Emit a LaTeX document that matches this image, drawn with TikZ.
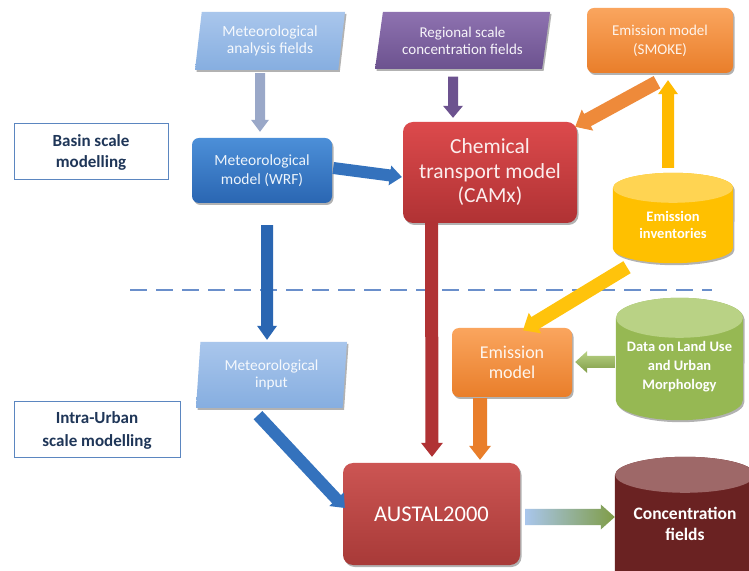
\documentclass[tikz,border=0pt]{standalone}
\usepackage{fontspec}
\setmainfont{Carlito}
\usetikzlibrary{shapes.geometric,calc,shadows}
\pgfdeclarelayer{background}
\pgfsetlayers{background,main}

\definecolor{lbTop}{HTML}{A9C6EC}\definecolor{lbBot}{HTML}{86AEE0}
\definecolor{puTop}{HTML}{8E72B0}\definecolor{puBot}{HTML}{6C528F}
\definecolor{orTop}{HTML}{FAA55E}\definecolor{orBot}{HTML}{E97E2A}
\definecolor{blTop}{HTML}{4C8FD8}\definecolor{blBot}{HTML}{2A66B2}
\definecolor{rdTop}{HTML}{DC4A4C}\definecolor{rdBot}{HTML}{B03234}
\definecolor{auTop}{HTML}{CC5553}\definecolor{auBot}{HTML}{A83A38}
\definecolor{yeBody}{HTML}{FFC000}\definecolor{yeTop}{HTML}{FFD452}
\definecolor{grBody}{HTML}{96B853}\definecolor{grTop}{HTML}{B9D285}
\definecolor{drBody}{HTML}{6A2222}\definecolor{drTop}{HTML}{9E6868}
\definecolor{dashc}{HTML}{6A8FCB}
\definecolor{frame}{HTML}{5B86C0}
\definecolor{navy}{HTML}{1F3658}
\definecolor{greyA}{HTML}{9AA8C8}
\definecolor{greyB}{HTML}{D8DEEC}

\newcommand\blockarrow[6]{%
  \coordinate (bah) at ($(#3)!#6!(#2)$);
  \path[#1] ($(#2)!#4!90:(#3)$) -- ($(bah)!#4!90:(#3)$) -- ($(bah)!#5!90:(#3)$)
    -- (#3) -- ($(bah)!#5!-90:(#3)$) -- ($(bah)!#4!-90:(#3)$) -- ($(#2)!#4!-90:(#3)$) -- cycle;
}
% node, half width, ry, body style, top style
\newcommand\cylbody[5]{%
  \begin{pgfonlayer}{background}
  \path[#4] ($(#1.north west)+(0,-#3)$) -- ($(#1.south west)+(0,#3)$)
     arc[start angle=180, end angle=360, x radius=#2, y radius=#3]
     -- ($(#1.north east)+(0,-#3)$)
     arc[start angle=0, end angle=180, x radius=#2, y radius=#3] -- cycle;
  \path[#5] ($(#1.north)+(0,-#3)$) ellipse[x radius=#2, y radius=#3];
  \end{pgfonlayer}
}

\tikzset{
  shade/.style={drop shadow={shadow xshift=1.5pt,shadow yshift=-2pt,opacity=.3,fill=black}},
  box/.style={rectangle, rounded corners=7pt, draw=none, align=center, inner sep=2pt, shade},
  para/.style={trapezium, trapezium left angle=78, trapezium right angle=102,
     trapezium stretches body, draw=none, align=center, inner sep=1pt, shade},
  scalebox/.style={rectangle, draw=frame, line width=1pt, fill=white, align=center,
     text=navy, font=\fontsize{17}{21}\selectfont\bfseries},
  cylnode/.style={rectangle, draw=none, inner sep=0pt},
  cyltext/.style={align=center, text=white, font=\bfseries\fontsize{14.5}{17}\selectfont},
  arGrey/.style={left color=greyA, middle color=greyB, right color=greyA},
  arPurple/.style={left color=puBot, middle color=puTop!90!white, right color=puBot},
  arBlue/.style={left color=blBot, middle color=blTop!85!white, right color=blBot},
  arBlueD/.style={fill=blBot!70!blTop},
  arOrange/.style={left color=orBot, middle color=orTop, right color=orBot},
  arOrangeD/.style={fill=orBot!70!orTop},
  arYellow/.style={left color=yeBody!90!orange, middle color=yeTop, right color=yeBody!90!orange},
  arYellowD/.style={fill=yeBody!85!yeTop},
  arRed/.style={left color=rdBot, middle color=rdTop!80!white, right color=rdBot},
  arGreen/.style={top color=grTop, bottom color=grBody!85!black},
  arGrad/.style={left color=lbTop, right color=grBody!85!black},
}

\begin{document}
\begin{tikzpicture}[x=1pt,y=1pt]
\useasboundingbox (0,0) rectangle (749,570);
\begin{pgfonlayer}{background}
\fill[white] (0,0) rectangle (749,570);
\end{pgfonlayer}

% ---- top row
\node[para, top color=lbTop, bottom color=lbBot, text=white!90!lbTop,
      minimum width=150, minimum height=58, font=\fontsize{15.5}{16.5}\selectfont] (maf) at (270,529)
      {Meteorological\\analysis fields};
\node[para, trapezium left angle=75, trapezium right angle=105,
      top color=puTop, bottom color=puBot, text=white!92!puTop,
      minimum width=175, minimum height=57, font=\fontsize{15}{17}\selectfont] (reg) at (462.5,529.5)
      {Regional scale\\concentration fields};
\node[box, top color=orTop, bottom color=orBot, text=white!88!orTop,
      minimum width=146, minimum height=65, font=\fontsize{15}{19}\selectfont] (smoke) at (660,529.5)
      {Emission model\\(SMOKE)};

% ---- basin row
\node[scalebox, minimum width=154, minimum height=56] (basin) at (91,418)
      {Basin scale\\modelling};
\node[box, top color=blTop, bottom color=blBot, text=white!90!blTop,
      minimum width=140, minimum height=65, font=\fontsize{15.5}{19}\selectfont] (wrf) at (262,399.5)
      {Meteorological\\model (WRF)};
\node[box, rounded corners=10pt, top color=rdTop, bottom color=rdBot, text=white!90!rdTop,
      minimum width=174, minimum height=101, font=\fontsize{21.5}{24.5}\selectfont] (camx) at (490,397.5)
      {Chemical\\transport model\\(CAMx)};
\node[cylnode, minimum width=120, minimum height=90,
      label={[cyltext, yshift=-7pt]center:Emission\\inventories}] (inv) at (673,352) {};
\cylbody{inv}{60}{15}{fill=yeBody, shade}{fill=yeTop}

% ---- dashed separator
\draw[dashc, line width=2.5pt, dash pattern=on 17pt off 9pt] (130,280) -- (712,280);

% ---- urban row
\node[para, trapezium left angle=82, trapezium right angle=98,
      top color=lbTop, bottom color=lbBot, text=white!90!lbTop,
      minimum width=151, minimum height=66, font=\fontsize{15.3}{16.5}\selectfont] (metin) at (271.5,195)
      {Meteorological\\input};
\node[scalebox, minimum width=166, minimum height=56, font=\fontsize{17}{23}\selectfont\bfseries] (urban) at (97,140)
      {Intra-Urban\\scale modelling};
\node[box, top color=orTop, bottom color=orBot, text=white!90!orTop,
      minimum width=120, minimum height=69, font=\fontsize{18}{20}\selectfont] (emod) at (512,207.5)
      {Emission\\model};
\node[cylnode, minimum width=127, minimum height=122,
      label={[cyltext, yshift=-8pt, font=\bfseries\fontsize{14.5}{19}\selectfont]center:Data on Land Use\\and Urban\\Morphology}] (land) at (679.5,211) {};
\cylbody{land}{63.5}{20}{fill=grBody, shade}{fill=grTop}
\node[box, rounded corners=10pt, top color=auTop, bottom color=auBot, text=white,
      minimum width=177, minimum height=102, font=\fontsize{22.5}{25}\selectfont] (austal) at (431.5,56)
      {AUSTAL2000};
\node[cylnode, minimum width=140, minimum height=133,
      label={[cyltext, font=\bfseries\fontsize{17.5}{21}\selectfont]center:Concentration\\fields}] (conc) at (685,46.5) {};
\cylbody{conc}{70}{18}{fill=drBody, shade}{fill=drTop}

% ---- arrows
\coordinate (a1) at ($(maf.south)+(-10,-3)$);   \coordinate (a2) at ($(wrf.north)+(-2,6)$);
\blockarrow{arGrey}{a1}{a2}{5pt}{9pt}{12pt}
\coordinate (b1) at ($(reg.south)+(-9.5,-7.5)$); \coordinate (b2) at ($(camx.north)+(-37,4)$);
\blockarrow{arPurple}{b1}{b2}{5pt}{10pt}{12pt}
\coordinate (c1) at ($(wrf.east)+(1,2.5)$);      \coordinate (c2) at ($(camx.west)+(-1,-4.5)$);
\blockarrow{arBlueD}{c1}{c2}{6pt}{10pt}{12pt}
\coordinate (d1) at ($(smoke.south)+(-3,-9)$);   \coordinate (d2) at ($(camx.north east)+(-2,-5)$);
\blockarrow{arOrangeD}{d1}{d2}{7pt}{12pt}{14pt}
\coordinate (e1) at ($(inv.north)+(-5,5)$);      \coordinate (e2) at ($(smoke.south)+(8,-7)$);
\blockarrow{arYellow}{e1}{e2}{6pt}{10pt}{14pt}
\coordinate (f1) at ($(wrf.south)+(5,-22)$);     \coordinate (f2) at ($(metin.north)+(-4.5,2)$);
\blockarrow{arBlue}{f1}{f2}{6pt}{10pt}{14pt}
\coordinate (g1) at (camx.south -| austal.north); \coordinate (g2) at ($(austal.north)+(0.5,6)$);
\blockarrow{arRed}{g1}{g2}{6.5pt}{11pt}{14pt}
\coordinate (h1) at ($(inv.south)+(-46,-4)$);    \coordinate (h2) at ($(emod.north)+(11,-2.5)$);
\blockarrow{arYellowD}{h1}{h2}{7pt}{12pt}{14pt}
\coordinate (i1) at ($(land.west)+(-1,-3)$);     \coordinate (i2) at ($(emod.east)+(3,0.5)$);
\blockarrow{arGreen}{i1}{i2}{6pt}{11pt}{12pt}
\coordinate (j1) at ($(emod.south)+(-32,-1)$);   \coordinate (j2) at ($(austal.north)+(48.5,3)$);
\blockarrow{arOrange}{j1}{j2}{7pt}{11pt}{14pt}
\coordinate (k1) at ($(metin.south)+(-13.5,-7)$); \coordinate (k2) at ($(austal.west)+(2,6)$);
\blockarrow{arBlueD}{k1}{k2}{6pt}{10pt}{12pt}
\coordinate (l1) at ($(austal.east)+(5,-3)$);    \coordinate (l2) at ($(conc.west)+(0,6.5)$);
\blockarrow{arGrad}{l1}{l2}{8pt}{12.5pt}{14pt}
\end{tikzpicture}
\end{document}
